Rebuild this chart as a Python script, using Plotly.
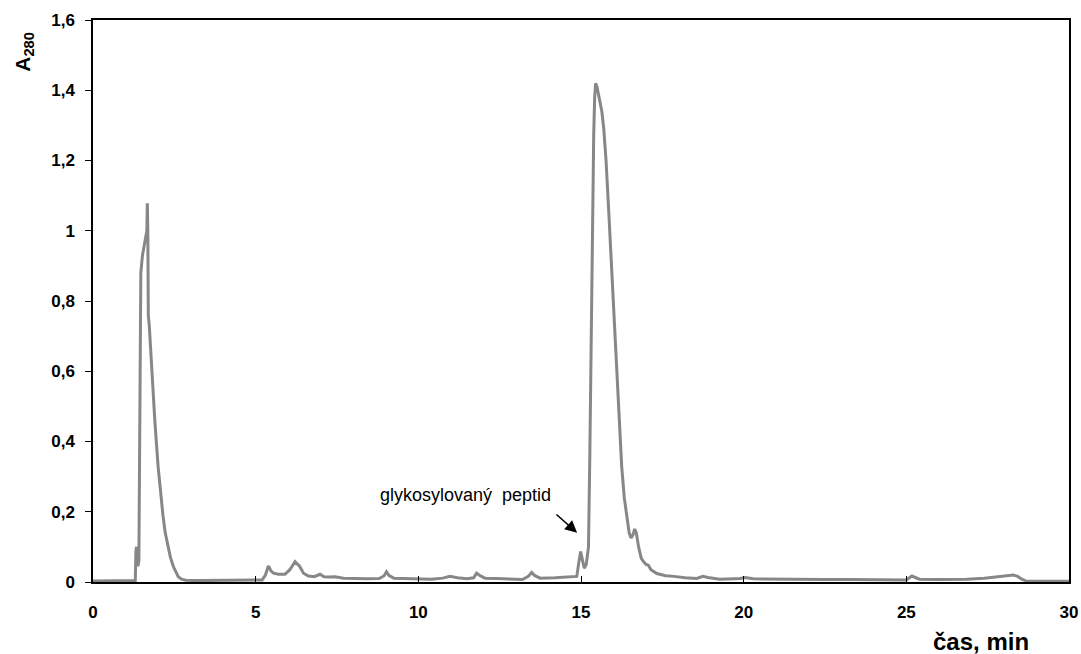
import plotly.graph_objects as go

# retention time, min
time_min = [0, 1.0, 1.30, 1.32, 1.34, 1.36, 1.38, 1.41, 1.44, 1.47, 1.52, 1.58, 1.63, 1.655, 1.67, 1.685, 1.70,
            1.73, 1.78, 1.85, 1.90, 2.0, 2.08, 2.15, 2.22, 2.30, 2.38, 2.47, 2.55, 2.62, 2.72, 2.85, 3.2, 4.0,
            5.0, 5.2, 5.3, 5.39, 5.47, 5.55, 5.7, 5.9, 6.05, 6.21, 6.35, 6.47, 6.62, 6.8, 6.98, 7.1, 7.25, 7.44,
            7.7, 8.0, 8.4, 8.8, 8.95, 9.02, 9.1, 9.25, 9.6, 10.0, 10.4, 10.75, 10.97, 11.2, 11.5, 11.7, 11.79,
            11.9, 12.05, 12.4, 12.8, 13.2, 13.38, 13.48, 13.58, 13.75, 14.2, 14.6, 14.87, 14.94, 14.99, 15.05,
            15.10, 15.16, 15.23, 15.27, 15.31, 15.35, 15.39, 15.42, 15.45, 15.49, 15.53, 15.58, 15.64, 15.70,
            15.77, 15.85, 15.92, 16.00, 16.10, 16.18, 16.25, 16.33, 16.40, 16.48, 16.54, 16.60, 16.65, 16.70,
            16.77, 16.85, 16.92, 17.0, 17.07, 17.15, 17.33, 17.6, 17.86, 18.2, 18.56, 18.75, 18.9, 19.27,
            19.9, 20.04, 20.3, 21.0, 21.73, 22.5, 23.27, 24.0, 24.81, 25.0, 25.17, 25.4, 26.0, 26.86, 27.4,
            27.88, 28.1, 28.29, 28.42, 28.55, 28.7, 29.2, 30.0]

# absorbance at 280 nm
a280 = [0.003, 0.003, 0.004, 0.09, 0.10, 0.08, 0.045, 0.06, 0.55, 0.88, 0.93, 0.96, 0.99, 1.0, 1.078, 1.0, 0.76,
        0.73, 0.65, 0.53, 0.46, 0.33, 0.25, 0.19, 0.14, 0.10, 0.07, 0.044, 0.027, 0.015, 0.008, 0.005, 0.004, 0.004,
        0.004, 0.006, 0.02, 0.046, 0.032, 0.025, 0.022, 0.022, 0.035, 0.058, 0.045, 0.025, 0.017, 0.015, 0.022,
        0.015, 0.014, 0.015, 0.011, 0.010, 0.009, 0.010, 0.018, 0.029, 0.018, 0.011, 0.010, 0.009, 0.008, 0.011,
        0.016, 0.012, 0.009, 0.012, 0.025, 0.018, 0.011, 0.010, 0.008, 0.007, 0.016, 0.027, 0.018, 0.011, 0.012,
        0.014, 0.016, 0.06, 0.087, 0.06, 0.039, 0.05, 0.10, 0.35, 0.70, 1.00, 1.27, 1.38, 1.42, 1.41, 1.39, 1.37,
        1.34, 1.29, 1.20, 1.06, 0.93, 0.78, 0.58, 0.44, 0.33, 0.24, 0.188, 0.14, 0.125, 0.135, 0.151, 0.14,
        0.10, 0.068, 0.058, 0.050, 0.048, 0.035, 0.024, 0.018, 0.016, 0.012, 0.010, 0.016, 0.013, 0.008,
        0.010, 0.013, 0.009, 0.008, 0.008, 0.007, 0.007, 0.006, 0.005, 0.006, 0.017, 0.008, 0.007, 0.008, 0.011,
        0.015, 0.018, 0.020, 0.016, 0.008, 0.002, 0.002, 0.002]

x_ticks = [0, 5, 10, 15, 20, 25, 30]
x_tick_labels = ["0", "5", "10", "15", "20", "25", "30"]
y_ticks = [0, 0.2, 0.4, 0.6, 0.8, 1.0, 1.2, 1.4, 1.6]
y_tick_labels = ["0", "0,2", "0,4", "0,6", "0,8", "1", "1,2", "1,4", "1,6"]

annotation_text = "glykosylovaný\u00a0\u00a0peptid"
arrow_tail = (14.20, 0.196)
arrow_tip = (14.88, 0.140)
text_pos = (11.44, 0.248)

FONT = "Liberation Sans, Arial, sans-serif"

fig = go.Figure()
fig.add_trace(go.Scatter(
    x=time_min, y=a280, mode="lines",
    line=dict(color="#878787", width=3),
    showlegend=False, hoverinfo="skip",
))

fig.update_layout(
    width=1081, height=654,
    margin=dict(l=93, r=12, t=20, b=72, autoexpand=False),
    paper_bgcolor="white", plot_bgcolor="white",
    font=dict(family=FONT, color="black"),
)

fig.update_xaxes(
    range=[0, 30], tickvals=x_ticks, ticktext=x_tick_labels,
    showgrid=False, zeroline=False, automargin=False,
    showline=True, linecolor="black", linewidth=1.5, mirror=True,
    ticks="inside", ticklen=6, tickwidth=1, tickcolor="black",
    tickfont=dict(family=FONT, size=17, weight="bold", color="black"),
    ticklabelstandoff=14,
)
fig.update_yaxes(
    range=[0, 1.6], tickvals=y_ticks, ticktext=y_tick_labels,
    showgrid=False, zeroline=False, automargin=False,
    showline=True, linecolor="black", linewidth=1.5, mirror=True,
    ticks="outside", ticklen=6, tickwidth=1, tickcolor="black",
    tickfont=dict(family=FONT, size=17, weight="bold", color="black"),
    ticklabelstandoff=7,
)

fig.add_annotation(
    x=text_pos[0], y=text_pos[1], xref="x", yref="y",
    xanchor="center", yanchor="middle",
    text=annotation_text, showarrow=False,
    font=dict(family=FONT, size=18, color="black"),
)
fig.add_annotation(
    x=arrow_tip[0], y=arrow_tip[1], ax=arrow_tail[0], ay=arrow_tail[1],
    xref="x", yref="y", axref="x", ayref="y",
    text="", showarrow=True, arrowhead=2, arrowsize=1.5, arrowwidth=1.6, arrowcolor="black",
)
# axis titles
fig.add_annotation(
    x=-0.071, y=0.943, xref="paper", yref="paper",
    xanchor="center", yanchor="middle",
    text="<b>A<sub>280</sub></b>", showarrow=False, textangle=-90,
    font=dict(family=FONT, size=21, color="black"),
)
fig.add_annotation(
    x=0.91, y=-0.105, xref="paper", yref="paper",
    xanchor="center", yanchor="middle",
    text="<b>čas, min</b>", showarrow=False,
    font=dict(family=FONT, size=24, color="black"),
)

fig.write_html("out.html")
